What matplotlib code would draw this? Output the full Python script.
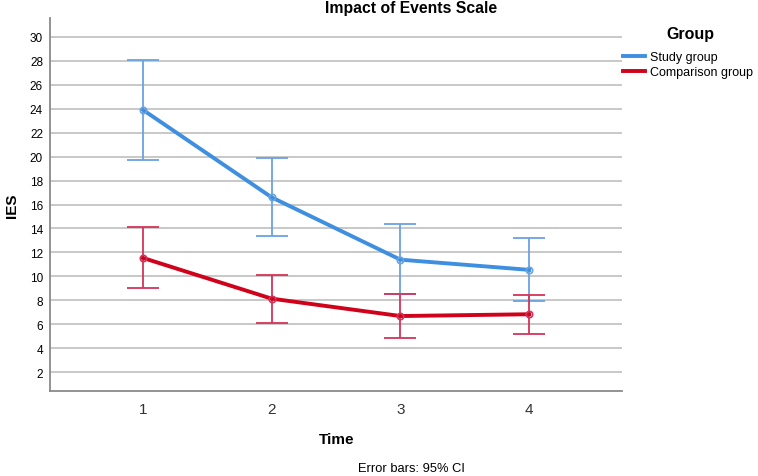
import numpy as np
import matplotlib.pyplot as plt

plt.rcParams['font.family'] = ['Liberation Sans', 'DejaVu Sans']

time = [1, 2, 3, 4]
groups = ['Study group', 'Comparison group']

study_mean = [23.9, 16.6, 11.4, 10.55]
study_lo = [19.75, 13.35, 8.5, 7.95]
study_hi = [28.05, 19.9, 14.4, 13.2]

comp_mean = [11.55, 8.15, 6.7, 6.85]
comp_lo = [9.0, 6.15, 4.9, 5.2]
comp_hi = [14.1, 10.15, 8.55, 8.45]

line_colors = ['#3f8fe0', '#d0021b']
bar_colors = ['#6aa3e0', '#d4345a']

fig = plt.figure(figsize=(7.58, 4.77), dpi=100)
ax = fig.add_axes([50 / 758, 1 - 392 / 477, 572 / 758, 373 / 477])

series = [(study_mean, study_lo, study_hi), (comp_mean, comp_lo, comp_hi)]
for (m, lo, hi), lc, bc, name in zip(series, line_colors, bar_colors, groups):
    m = np.array(m)
    yerr = [m - np.array(lo), np.array(hi) - m]
    ax.errorbar(time, m, yerr=yerr, fmt='none', ecolor=bc, elinewidth=1.3,
                capsize=11.5, capthick=1.3, zorder=3)
    ax.plot(time, m, color=lc, lw=2.8, label=name, zorder=4)
    ax.plot(time, m, 'o', ms=4.6, mfc='none', mec=bc, mew=1.2, zorder=5)

ax.set_xlim(0.28, 4.72)
ax.set_ylim(0.45, 31.55)
ax.set_xticks(time)
ax.set_yticks(np.arange(2, 31, 2))
ax.grid(axis='y', color='#c4c4c4', lw=1.3)
ax.set_axisbelow(True)
ax.tick_params(axis='both', length=0)
ax.tick_params(axis='y', labelsize=8.5, pad=5)
ax.tick_params(axis='x', labelsize=11, pad=8, labelcolor='#333333')
for s in ['top', 'right']:
    ax.spines[s].set_visible(False)
for s in ['left', 'bottom']:
    ax.spines[s].set_color('#8a8a8a')
    ax.spines[s].set_linewidth(1.3)

ax.set_ylabel('IES', fontsize=11, fontweight='bold', labelpad=8)
fig.text(337 / 758, 1 - 440 / 477, 'Time', ha='center', va='center',
         fontsize=11, fontweight='bold')
fig.text(411 / 758, 1 - 469 / 477, 'Error bars: 95% CI', ha='center',
         va='center', fontsize=9.3)
fig.text(411 / 758, 1 - 9 / 477, 'Impact of Events Scale', ha='center',
         va='center', fontsize=11.3, fontweight='bold')
fig.text(690 / 758, 1 - 34 / 477, 'Group', ha='center', va='center',
         fontsize=11.5, fontweight='bold')

leg = ax.legend(loc='upper left', bbox_to_anchor=(623 / 758, 1 - 52 / 477),
                bbox_transform=fig.transFigure, frameon=False,
                fontsize=9, handlelength=1.75, handletextpad=0.4,
                labelspacing=0.25, borderpad=0, borderaxespad=0)

fig.savefig('out.png', dpi=100)
